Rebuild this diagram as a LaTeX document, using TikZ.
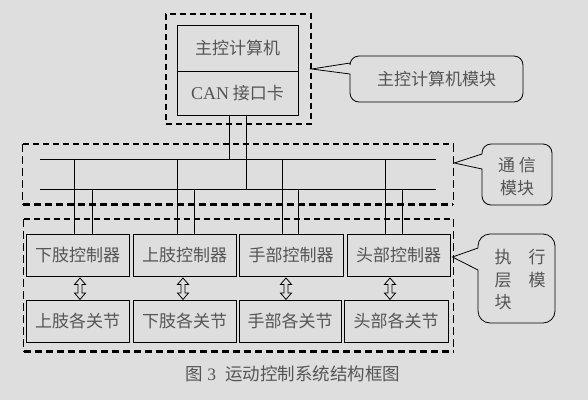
\documentclass[tikz,border=0pt]{standalone}
\usepackage{fontspec}
\setmainfont{Liberation Serif}
\newfontfamily\cjk{Noto Sans CJK SC}
\usetikzlibrary{calc}
\definecolor{paper}{RGB}{222,222,222}
\definecolor{ink}{RGB}{85,85,85}
\begin{document}
\begin{tikzpicture}
      [
      x=1pt, y=-1pt,
      unit/.style={rectangle,draw,line width=0.9pt,text=ink,font=\cjk\fontsize{17}{19}\selectfont,inner sep=0pt,minimum width=103pt,minimum height=42pt},
      area/.style={rectangle,inner sep=0pt},
      grptop/.style={line width=1.6pt,dash pattern=on 6pt off 4pt},
      grpside/.style={line width=0.9pt,dash pattern=on 8pt off 4pt},
      grpbase/.style={line width=2.6pt,dash pattern=on 7pt off 4pt},
      bus/.style={line width=0.9pt},
      bubble/.style={draw,fill=paper,line width=0.8pt},
      note/.style={text=ink,font=\cjk\fontsize{17}{22.5}\selectfont,align=left,inner sep=0pt},
      hollow/.style={draw,line width=0.8pt,line join=miter}
      ]
      \fill[paper] (0,0) rectangle (588,400);
      \node (cpu) at (237.5,48) [unit,minimum width=121pt,minimum height=46pt] {主控计算机};
      \node (can) at (237.5,93) [unit,minimum width=121pt,minimum height=44pt] {{\rmfamily\fontsize{18}{19}\selectfont CAN} 接口卡};
      \node (hostgrp) at (238.5,69) [area,draw,line width=1.4pt,dash pattern=on 6pt off 4pt,minimum width=145pt,minimum height=110pt] {};
      \node (commgrp) at (238,174) [area,minimum width=430pt,minimum height=60pt] {};
      \node (execgrp) at (238.5,285) [area,minimum width=429pt,minimum height=132pt] {};
      \foreach \g in {commgrp,execgrp}
      {
        \draw [grptop] (\g.north west) -- (\g.north east);
        \draw [grpside] (\g.north west) -- (\g.south west);
        \draw [grpside] (\g.north east) -- (\g.south east);
        \draw [grpbase] (\g.south west) -- (\g.south east);
      }
      \coordinate (busA) at (40,159);
      \coordinate (busAe) at (436,159);
      \coordinate (busB) at (40,189);
      \coordinate (busBe) at (436,189);
      \draw [bus] (busA) -- (busAe);
      \draw [bus] (busB) -- (busBe);
      \coordinate (h1) at ($(can.south)+(-8.5,0)$);
      \coordinate (h2) at ($(can.south)+(8.5,0)$);
      \draw [bus] (h1) -- (h1 |- busA);
      \draw [bus] (h2) -- (h2 |- busB);
      \node (ctl1) at (77.5,255) [unit] {下肢控制器};
      \node (ctl2) at (184.5,255) [unit] {上肢控制器};
      \node (ctl3) at (291,255) [unit,minimum width=104pt] {手部控制器};
      \node (ctl4) at (398.5,255) [unit] {头部控制器};
      \node (jnt1) at (77.5,321) [unit] {上肢各关节};
      \node (jnt2) at (184.5,321) [unit] {下肢各关节};
      \node (jnt3) at (290,321) [unit,minimum width=102pt] {手部各关节};
      \node (jnt4) at (396,321) [unit,minimum width=104pt] {头部各关节};
      \foreach \c/\a/\b in {ctl1/-3.5/14.5,ctl2/-7.5/9.5,ctl3/-9/7,ctl4/-13.5/3.5}
      {
        \coordinate (p) at ($(\c.north)+(\a,0)$);
        \coordinate (q) at ($(\c.north)+(\b,0)$);
        \draw [bus] (p) -- (p |- busA);
        \draw [bus] (q) -- (q |- busB);
      }
      \foreach \i/\d in {1/2.5,2/-1.5,3/-5,4/-8.5}
      {
        \coordinate (r) at ($(ctl\i.south)+(\d,1.5)$);
        \draw [hollow] (r) -- ++(-5.5,6.5) -- ++(3.5,0) -- ++(0,8.5) -- ++(-3.5,0) -- ++(5.5,6.5)
          -- ++(5.5,-6.5) -- ++(-3.5,0) -- ++(0,-8.5) -- ++(3.5,0) -- cycle;
      }
      \draw [bubble] (hostgrp.east) -- (350,63) {[rounded corners=9pt] -- (350,56) -- (523,56) -- (523,102) -- (350,102)} -- (350,74) -- cycle;
      \node (hostnote) at (436.5,79) [note] {主控计算机模块};
      \draw [bubble] ($(commgrp.east)+(1,-11)$) -- (482,154) {[rounded corners=9pt] -- (482,144) -- (552,144) -- (552,205) -- (482,205)} -- (482,169) -- cycle;
      \node (commnote) at (517,176.5) [note,align=center] {通\ 信\\模块};
      \draw [bubble] ($(ctl4.east)+(2,2)$) -- (478,248) {[rounded corners=12pt] -- (478,234) -- (555,234) -- (555,323) -- (478,323)} -- (478,270) -- cycle;
      \node (execnote) at (520,280) [note] {执\quad 行\\层\quad 模\\块};
      \node (caption) at (293,374) [note,font=\cjk\fontsize{17.5}{20}\selectfont] {图 {\rmfamily 3}\hspace{9pt}运动控制系统结构框图};
    \end{tikzpicture}
\end{document}
